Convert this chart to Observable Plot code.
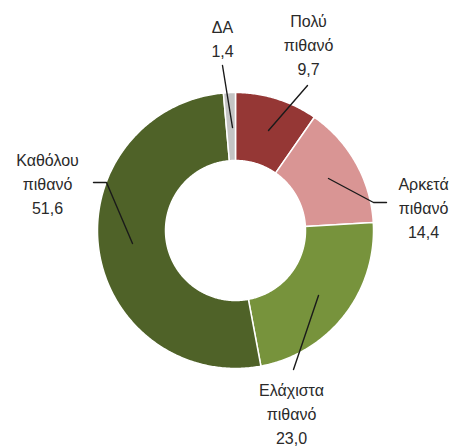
<!DOCTYPE html>
<html>
<head>
<meta charset="utf-8">
<script src="https://cdn.jsdelivr.net/npm/d3@7"></script>
<script src="https://cdn.jsdelivr.net/npm/@observablehq/plot@0.6"></script>
<style>
  html, body { margin: 0; padding: 0; background: #fff; }
  #chart svg { display: block; }
</style>
</head>
<body>
<div id="chart"></div>
<script>
// ---- data ----
const categories = ["Πολύ πιθανό", "Αρκετά πιθανό", "Ελάχιστα πιθανό", "Καθόλου πιθανό", "ΔΑ"];
const labelLines = [["Πολύ", "πιθανό"], ["Αρκετά", "πιθανό"], ["Ελάχιστα", "πιθανό"], ["Καθόλου", "πιθανό"], ["ΔΑ"]];
const values = [9.7, 14.4, 23.0, 51.6, 1.4];
const colors = ["#953735", "#D99594", "#77933C", "#4F6228", "#C4C4C4"];

// ---- layout ----
const W = 457, H = 447;
const cx = 235, cy = 230, rOuter = 138, rInner = 70;
const labelPos = [[308, 43], [423, 206], [291, 412], [47, 182], [222, 37]];
const leaderPaths = [
  [[307, 85], [268, 130]],
  [[386, 202], [373, 202], [328, 178]],
  [[318, 295], [293, 369]],
  [[93, 182], [106, 182], [132, 243]],
  [[222, 65], [232, 127]]
];

const rows = categories.map((c, i) => ({category: c, value: values[i]}));
const arcs = d3.pie().sort(null).value(d => d.value)(rows);

const slicePts = [];
arcs.forEach(a => {
  const n = Math.max(4, Math.ceil((a.endAngle - a.startAngle) / 0.01));
  const pts = [];
  for (let k = 0; k <= n; k++) {
    const t = a.startAngle + (a.endAngle - a.startAngle) * k / n;
    pts.push([cx + rOuter * Math.sin(t), cy - rOuter * Math.cos(t)]);
  }
  for (let k = n; k >= 0; k--) {
    const t = a.startAngle + (a.endAngle - a.startAngle) * k / n;
    pts.push([cx + rInner * Math.sin(t), cy - rInner * Math.cos(t)]);
  }
  pts.push(pts[0]);
  pts.forEach(p => slicePts.push({category: a.data.category, x: p[0], y: p[1]}));
});

const fmt = v => v.toFixed(1).replace(".", ",");
const labels = categories.map((c, i) => ({
  text: [...labelLines[i], fmt(values[i])].join("\n"),
  x: labelPos[i][0], y: labelPos[i][1]
}));

const leaders = [];
leaderPaths.forEach((path, i) => path.forEach(p => leaders.push({id: i, x: p[0], y: p[1]})));

const chart = Plot.plot({
  width: W, height: H,
  margin: 0,
  x: {domain: [0, W], range: [0, W], axis: null},
  y: {domain: [0, H], range: [0, H], axis: null},
  color: {domain: categories, range: colors},
  style: {fontFamily: "'Liberation Sans', Arial, sans-serif", background: "#fff"},
  marks: [
    Plot.line(slicePts, {x: "x", y: "y", z: "category", fill: "category", stroke: "#ffffff", strokeWidth: 1.5, curve: "linear"}),
    Plot.line(leaders, {x: "x", y: "y", z: "id", stroke: "#1a1a1a", strokeWidth: 1.4}),
    Plot.text(labels, {x: "x", y: "y", text: "text", fontSize: 16, lineHeight: 1.48, fill: "#2a2a2a", textAnchor: "middle", lineAnchor: "middle"})
  ]
});
document.getElementById("chart").appendChild(chart);
</script>
</body>
</html>
